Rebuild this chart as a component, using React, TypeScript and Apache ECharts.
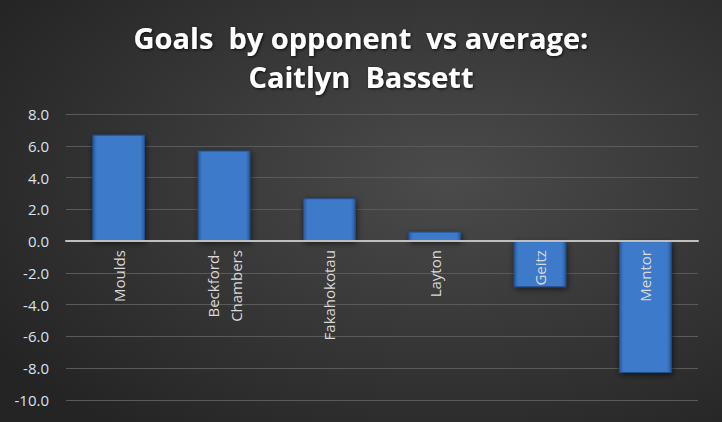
import React, { useEffect, useRef } from "react";
import * as echarts from "echarts";

const categories = ["Moulds", "Beckford-\nChambers", "Fakahokotau", "Layton", "Geitz", "Mentor"];
const values = [6.7, 5.7, 2.7, 0.6, -2.9, -8.3];
const yMin = -10;
const yMax = 8;
const yInterval = 2;
const titleText = "Goals  by opponent  vs average:\nCaitlyn  Bassett";

export default function App() {
  const ref = useRef<HTMLDivElement>(null);
  useEffect(() => {
    if (!ref.current) return;
    const chart = echarts.init(ref.current, undefined, { renderer: "svg" });
    chart.setOption({
      animation: false,
      backgroundColor: {
        type: "radial",
        x: 0.62,
        y: 0.42,
        r: 0.75,
        colorStops: [
          { offset: 0, color: "#4b4b4b" },
          { offset: 1, color: "#242424" },
        ],
      },
      title: {
        text: titleText,
        left: "center",
        top: 13,
        textStyle: {
          color: "#ffffff",
          fontFamily: "Open Sans",
          fontWeight: "bold",
          fontSize: 29,
          lineHeight: 39,
          textShadowColor: "rgba(0,0,0,0.8)",
          textShadowBlur: 3,
          textShadowOffsetX: 1,
          textShadowOffsetY: 1,
        },
      },
      grid: { left: 66, right: 24, top: 114, bottom: 22, containLabel: false, outerBoundsMode: "none" },
      xAxis: {
        type: "category",
        data: categories,
        offset: 0,
        z: 10,
        axisLine: { onZero: false, lineStyle: { color: "#bfbfbf", width: 2 } },
        axisTick: { show: false },
        axisLabel: {
          rotate: 90,
          color: "#d9d9d9",
          fontFamily: "Open Sans",
          fontSize: 15,
          margin: 9,
          lineHeight: 23,
          interval: 0,
        },
      },
      yAxis: {
        type: "value",
        min: yMin,
        max: yMax,
        interval: yInterval,
        axisLine: { show: false },
        axisTick: { show: false },
        splitLine: { lineStyle: { color: "#5a5a5a", width: 1 } },
        axisLabel: {
          color: "#d9e1ee",
          fontFamily: "Open Sans",
          fontSize: 15,
          margin: 17,
          formatter: (v: number) => v.toFixed(1),
        },
      },
      series: [
        {
          type: "bar",
          data: values,
          barWidth: "50%",
          itemStyle: {
            color: {
              type: "linear",
              x: 0,
              y: 0,
              x2: 1,
              y2: 0,
              colorStops: [
                { offset: 0, color: "#2a5a9e" },
                { offset: 0.08, color: "#3d7ac9" },
                { offset: 0.92, color: "#3d7ac9" },
                { offset: 1, color: "#2a5a9e" },
              ],
            },
            borderColor: "#244f8c",
            borderWidth: 1,
            shadowColor: "rgba(0,0,0,0.6)",
            shadowBlur: 6,
            shadowOffsetX: 1,
            shadowOffsetY: 2,
          },
        },
      ],
    });
    const yZero = chart.convertToPixel({ yAxisIndex: 0 }, 0) as number;
    const yBottom = chart.convertToPixel({ yAxisIndex: 0 }, yMin) as number;
    chart.setOption({ xAxis: { offset: -(yBottom - yZero) } });
    return () => chart.dispose();
  }, []);
  return <div ref={ref} style={{ width: 722, height: 422, position: "absolute", left: 0, top: 0 }} />;
}
